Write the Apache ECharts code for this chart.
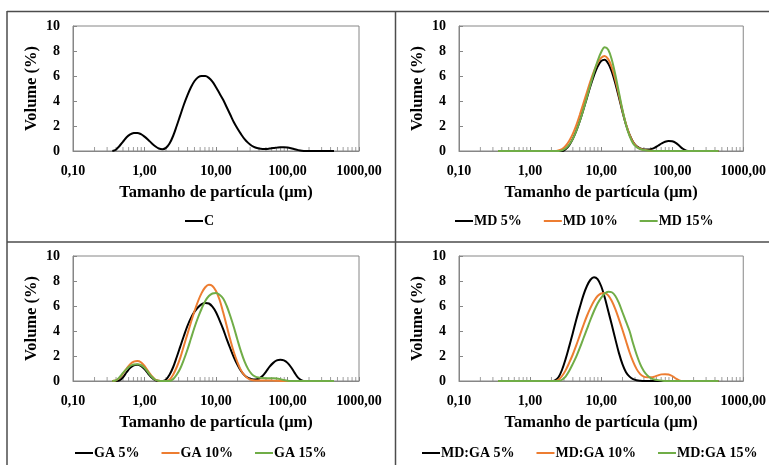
<!DOCTYPE html>
<html>
<head>
<meta charset="utf-8">
<script src="https://cdn.jsdelivr.net/npm/echarts@6/dist/echarts.min.js"></script>
<style>
html, body { margin: 0; padding: 0; background: #fff; }
#chart { width: 769px; height: 465px; }
</style>
</head>
<body>
<div id="chart"></div>
<script>
// particle sizes (um), shared by every curve
var sizes = [0.355, 0.398, 0.447, 0.501, 0.562, 0.631, 0.708, 0.794, 0.891, 1.000,
  1.122, 1.259, 1.413, 1.585, 1.778, 1.995, 2.239, 2.512, 2.818, 3.162,
  3.548, 3.981, 4.467, 5.012, 5.623, 6.310, 7.079, 7.943, 8.913, 10.00,
  11.22, 12.59, 14.13, 15.85, 17.78, 19.95, 22.39, 25.12, 28.18, 31.62,
  35.48, 39.81, 44.67, 50.12, 56.23, 63.10, 70.79, 79.43, 89.13, 100.0,
  112.2, 125.9, 141.3, 158.5, 177.8, 199.5, 223.9, 251.2, 281.8, 316.2,
  354.8, 398.1, 446.7];

var valsC = [0, 0.1, 0.4, 0.75, 1.1, 1.33, 1.44, 1.45, 1.35, 1.15,
  0.9, 0.62, 0.38, 0.2, 0.14, 0.25, 0.6, 1.2, 2.0, 2.85,
  3.7, 4.45, 5.1, 5.6, 5.9, 6.0, 6.0, 5.85, 5.55, 5.1,
  4.6, 4.1, 3.5, 2.9, 2.3, 1.8, 1.35, 0.95, 0.65, 0.42,
  0.28, 0.2, 0.17, 0.17, 0.2, 0.24, 0.27, 0.3, 0.3, 0.28,
  0.22, 0.14, 0.07, 0.02, 0, 0, 0, 0, 0, 0,
  0, 0, 0];

var valsMD5 = [0, 0, 0, 0, 0, 0, 0, 0, 0, 0,
  0, 0, 0, 0, 0, 0, 0, 0, 0, 0.15,
  0.45, 0.95, 1.6, 2.4, 3.3, 4.25, 5.2, 6.05, 6.75, 7.2,
  7.3, 7.0, 6.35, 5.4, 4.3, 3.15, 2.1, 1.3, 0.72, 0.38,
  0.2, 0.13, 0.12, 0.15, 0.25, 0.42, 0.6, 0.74, 0.8, 0.78,
  0.65, 0.42, 0.18, 0.03, 0, 0, 0, 0, 0, 0,
  0, 0, 0];
var valsMD10 = [0, 0, 0, 0, 0, 0, 0, 0, 0, 0,
  0, 0, 0, 0, 0, 0, 0, 0.05, 0.15, 0.4,
  0.8, 1.35, 2.05, 2.9, 3.8, 4.7, 5.6, 6.4, 7.05, 7.45,
  7.6, 7.35, 6.7, 5.7, 4.5, 3.25, 2.15, 1.3, 0.7, 0.35,
  0.18, 0.1, 0.05, 0.02, 0, 0, 0, 0, 0, 0,
  0, 0, 0, 0, 0, 0, 0, 0, 0, 0,
  0, 0, 0];
var valsMD15 = [0, 0, 0, 0, 0, 0, 0, 0, 0, 0,
  0, 0, 0, 0, 0, 0, 0, 0, 0.05, 0.2,
  0.5, 0.95, 1.6, 2.4, 3.3, 4.3, 5.3, 6.3, 7.2, 7.9,
  8.3, 8.1, 7.3, 6.1, 4.7, 3.3, 2.1, 1.2, 0.6, 0.3,
  0.15, 0.08, 0.04, 0.01, 0, 0, 0, 0, 0, 0,
  0, 0, 0, 0, 0, 0, 0, 0, 0, 0,
  0, 0, 0];

var valsGA5 = [0, 0, 0.05, 0.3, 0.7, 1.05, 1.25, 1.3, 1.2, 0.95,
  0.6, 0.28, 0.07, 0, 0, 0.1, 0.5, 1.1, 1.9, 2.75,
  3.6, 4.4, 5.05, 5.55, 5.9, 6.15, 6.25, 6.2, 5.95, 5.5,
  4.85, 4.15, 3.35, 2.6, 1.9, 1.3, 0.8, 0.45, 0.25, 0.15,
  0.12, 0.2, 0.4, 0.75, 1.15, 1.45, 1.65, 1.7, 1.65, 1.45,
  1.1, 0.65, 0.25, 0.05, 0, 0, 0, 0, 0, 0,
  0, 0, 0];
var valsGA10 = [0, 0.05, 0.25, 0.6, 1.0, 1.35, 1.55, 1.6, 1.5, 1.2,
  0.8, 0.4, 0.12, 0.02, 0, 0, 0.1, 0.5, 1.1, 1.85,
  2.8, 3.75, 4.7, 5.6, 6.4, 7.05, 7.5, 7.7, 7.6, 7.2,
  6.5, 5.5, 4.4, 3.3, 2.3, 1.5, 0.85, 0.45, 0.2, 0.08,
  0.05, 0.05, 0.05, 0.05, 0.05, 0.03, 0.02, 0, 0, 0,
  0, 0, 0, 0, 0, 0, 0, 0, 0, 0,
  0, 0, 0];
var valsGA15 = [0, 0.05, 0.3, 0.65, 0.95, 1.2, 1.32, 1.35, 1.28, 1.05,
  0.7, 0.35, 0.1, 0.02, 0, 0, 0, 0.15, 0.5, 1.0,
  1.7, 2.5, 3.4, 4.3, 5.1, 5.8, 6.4, 6.8, 7.0, 7.05,
  6.9, 6.6, 6.0, 5.2, 4.3, 3.3, 2.35, 1.55, 0.95, 0.55,
  0.35, 0.27, 0.24, 0.23, 0.23, 0.22, 0.2, 0.15, 0.08, 0.02,
  0, 0, 0, 0, 0, 0, 0, 0, 0, 0,
  0, 0, 0];

var valsMDGA5 = [0, 0, 0, 0, 0, 0, 0, 0, 0, 0,
  0, 0, 0, 0, 0, 0, 0.05, 0.3, 0.9, 1.75,
  2.75, 3.8, 4.9, 5.9, 6.85, 7.6, 8.1, 8.3, 8.15, 7.6,
  6.7, 5.6, 4.5, 3.35, 2.25, 1.35, 0.7, 0.35, 0.15, 0.06,
  0.02, 0, 0, 0, 0, 0, 0, 0, 0, 0,
  0, 0, 0, 0, 0, 0, 0, 0, 0, 0,
  0, 0, 0];
var valsMDGA10 = [0, 0, 0, 0, 0, 0, 0, 0, 0, 0,
  0, 0, 0, 0, 0, 0, 0, 0.1, 0.4, 0.85,
  1.45, 2.1, 2.85, 3.65, 4.45, 5.2, 5.85, 6.4, 6.8, 7.0,
  7.05, 6.85, 6.4, 5.75, 4.95, 4.1, 3.2, 2.3, 1.55, 0.95,
  0.55, 0.35, 0.3, 0.3, 0.35, 0.45, 0.53, 0.55, 0.52, 0.4,
  0.2, 0.05, 0, 0, 0, 0, 0, 0, 0, 0,
  0, 0, 0];
var valsMDGA15 = [0, 0, 0, 0, 0, 0, 0, 0, 0, 0,
  0, 0, 0, 0, 0, 0, 0, 0, 0.1, 0.35,
  0.8, 1.35, 1.95, 2.65, 3.4, 4.15, 4.9, 5.6, 6.2, 6.65,
  7.0, 7.15, 7.1, 6.8, 6.25, 5.5, 4.75, 4.0, 3.0, 2.1,
  1.35, 0.8, 0.45, 0.22, 0.12, 0.07, 0.03, 0, 0, 0,
  0, 0, 0, 0, 0, 0, 0, 0, 0, 0,
  0, 0, 0];

// minor tick positions on the log axis
var minorTicks = [0.2, 0.3, 0.4, 0.5, 0.6, 0.7, 0.8, 0.9,
  2, 3, 4, 5, 6, 7, 8, 9,
  20, 30, 40, 50, 60, 70, 80, 90,
  200, 300, 400, 500, 600, 700, 800, 900];

var serif = "'Liberation Serif', 'Times New Roman', serif";
var black = '#000000', orange = '#ED7D31', green = '#70AD47';

// one entry per panel
var panels = [
  { left: 73, top: 26, names: ['C'], vals: [valsC], colors: [black], legendLeft: 185, legendTop: 214 },
  { left: 459, top: 26, names: ['MD 5%', 'MD 10%', 'MD 15%'], vals: [valsMD5, valsMD10, valsMD15],
    colors: [black, orange, green], legendLeft: 455, legendTop: 214 },
  { left: 73, top: 256, names: ['GA 5%', 'GA 10%', 'GA 15%'], vals: [valsGA5, valsGA10, valsGA15],
    colors: [black, orange, green], legendLeft: 75, legendTop: 446 },
  { left: 459, top: 256, names: ['MD:GA 5%', 'MD:GA 10%', 'MD:GA 15%'], vals: [valsMDGA5, valsMDGA10, valsMDGA15],
    colors: [black, orange, green], legendLeft: 422, legendTop: 446 }
];

function toPairs(vals) {
  return sizes.map(function (s, i) { return [s, vals[i]]; });
}

var grids = [], xAxes = [], yAxes = [], series = [], legends = [];

panels.forEach(function (p, k) {
  grids.push({
    left: p.left, top: p.top, width: 286, height: 125,
    show: true, borderColor: '#868686', borderWidth: 1
  });
  xAxes.push({
    type: 'log', gridIndex: k, logBase: 10, min: 0.1, max: 1000,
    name: 'Tamanho de partícula (μm)', nameLocation: 'middle', nameGap: 33,
    nameTextStyle: { fontFamily: serif, fontWeight: 'bold', fontSize: 16.5, color: '#000' },
    axisLine: { lineStyle: { color: '#868686', width: 1 } },
    axisTick: { inside: true, length: 4, lineStyle: { color: '#868686' } },
    splitLine: { show: false },
    axisLabel: {
      margin: 13, fontFamily: serif, fontWeight: 'bold', fontSize: 14, color: '#000',
      formatter: function (v) { return Number(v).toFixed(2).replace('.', ','); }
    }
  });
  yAxes.push({
    type: 'value', gridIndex: k, min: 0, max: 10, interval: 2,
    name: 'Volume (%)', nameLocation: 'middle', nameGap: 33, nameRotate: 90,
    nameTextStyle: { fontFamily: serif, fontWeight: 'bold', fontSize: 16.5, color: '#000' },
    axisLine: { show: true, lineStyle: { color: '#868686', width: 1 } },
    axisTick: { show: true, inside: true, length: 4, lineStyle: { color: '#868686' } },
    splitLine: { show: false },
    axisLabel: { margin: 13, fontFamily: serif, fontWeight: 'bold', fontSize: 14, color: '#000' }
  });
  series.push({
    type: 'scatter', name: 'ticks' + k, xAxisIndex: k, yAxisIndex: k, silent: true,
    symbol: 'rect', symbolSize: [1, 4], symbolOffset: [0, -2],
    itemStyle: { color: '#868686' },
    data: minorTicks.map(function (t) { return [t, 0]; })
  });
  p.names.forEach(function (n, j) {
    series.push({
      type: 'line', name: n, xAxisIndex: k, yAxisIndex: k,
      showSymbol: false, smooth: 0.35,
      lineStyle: { color: p.colors[j], width: 2 },
      itemStyle: { color: p.colors[j] },
      data: toPairs(p.vals[j])
    });
  });
  legends.push({
    data: p.names, left: p.legendLeft, top: p.legendTop,
    icon: 'rect', itemWidth: 18, itemHeight: 2, itemGap: 22, padding: 0,
    selectedMode: false,
    textStyle: { fontFamily: serif, fontWeight: 'bold', fontSize: 14, color: '#000', padding: [0, 0, 0, -4] }
  });
});

var lineStyle = { stroke: '#4d4d4d', lineWidth: 1.5 };
var option = {
  animation: false,
  backgroundColor: '#fff',
  grid: grids,
  xAxis: xAxes,
  yAxis: yAxes,
  legend: legends,
  series: series,
  graphic: [
    { type: 'line', shape: { x1: 7, y1: 11.5, x2: 769, y2: 11.5 }, style: lineStyle },
    { type: 'line', shape: { x1: 7, y1: 242, x2: 769, y2: 242 }, style: lineStyle },
    { type: 'line', shape: { x1: 7, y1: 11, x2: 7, y2: 465 }, style: lineStyle },
    { type: 'line', shape: { x1: 395.5, y1: 11, x2: 395.5, y2: 465 }, style: lineStyle }
  ]
};

var dom = document.getElementById('chart');
var myChart = echarts.init(dom, null, { renderer: 'canvas' });
myChart.setOption(option);
</script>
</body>
</html>
